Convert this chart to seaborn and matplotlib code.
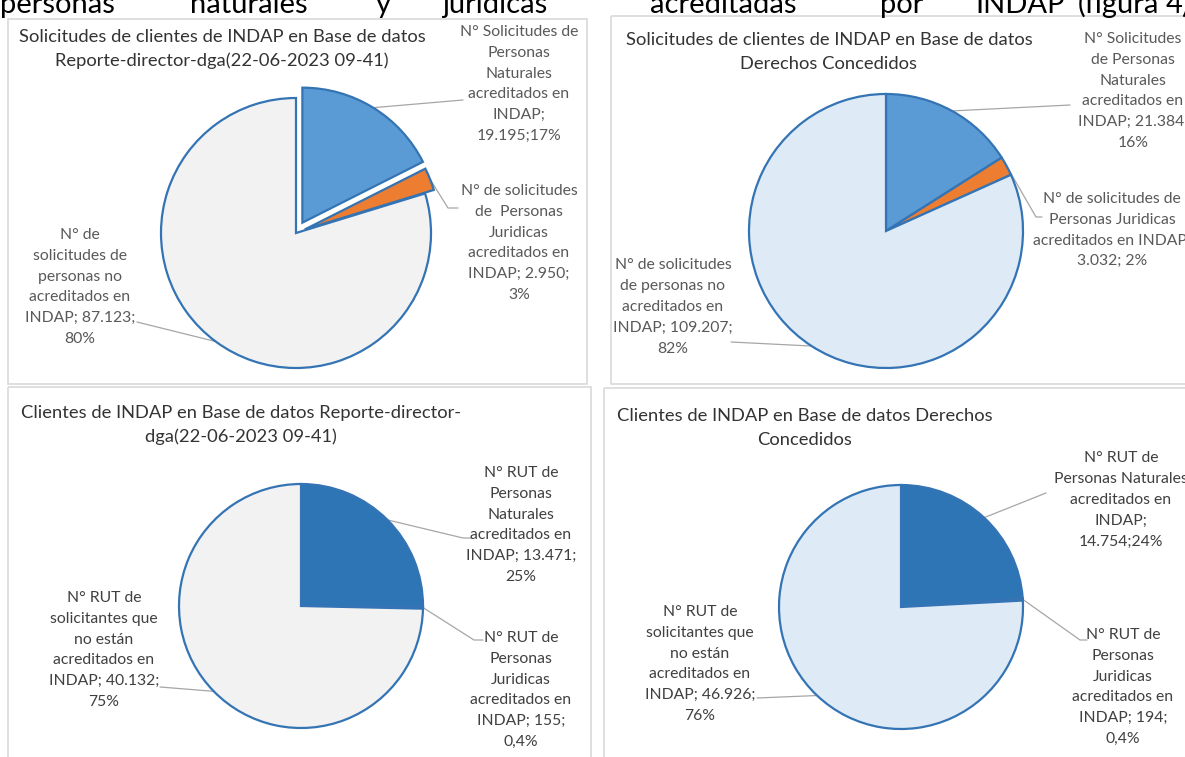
import matplotlib
matplotlib.use("Agg")
import matplotlib.pyplot as plt
from matplotlib.patches import Rectangle
import seaborn as sns
import numpy as np

# ---------------- data ----------------
intro_words = ["personas", "naturales", "y", "juridicas", "acreditadas", "por", "INDAP", "(figura", "4)."]

titles = [
    "Solicitudes de clientes de INDAP en Base de datos\nReporte-director-dga(22-06-2023 09-41)",
    "Solicitudes de clientes de INDAP en Base de datos\nDerechos Concedidos",
    "Clientes de INDAP en Base de datos Reporte-director-\ndga(22-06-2023 09-41)",
    "Clientes de INDAP en Base de datos Derechos\nConcedidos",
]

values_sol_reporte = [19195, 2950, 87123]
values_sol_derechos = [21384, 3032, 109207]
values_rut_reporte = [13471, 155, 40132]
values_rut_derechos = [14754, 194, 46926]

labels_sol_reporte = [
    "N° Solicitudes de\nPersonas\nNaturales\nacreditados en\nINDAP;\n19.195;17%",
    "N° de solicitudes\nde  Personas\nJuridicas\nacreditados en\nINDAP; 2.950;\n3%",
    "N° de\nsolicitudes de\npersonas no\nacreditados en\nINDAP; 87.123;\n80%",
]
labels_sol_derechos = [
    "N° Solicitudes\nde Personas\nNaturales\nacreditados en\nINDAP; 21.384;\n16%",
    "N° de solicitudes de\nPersonas Juridicas\nacreditados en INDAP;\n3.032; 2%",
    "N° de solicitudes\nde personas no\nacreditados en\nINDAP; 109.207;\n82%",
]
labels_rut_reporte = [
    "N° RUT de\nPersonas\nNaturales\nacreditados en\nINDAP; 13.471;\n25%",
    "N° RUT de\nPersonas\nJuridicas\nacreditados en\nINDAP; 155;\n0,4%",
    "N° RUT de\nsolicitantes que\nno están\nacreditados en\nINDAP; 40.132;\n75%",
]
labels_rut_derechos = [
    "N° RUT de\nPersonas Naturales\nacreditados en\nINDAP;\n14.754;24%",
    "N° RUT de\nPersonas\nJuridicas\nacreditados en\nINDAP; 194;\n0,4%",
    "N° RUT de\nsolicitantes que\nno están\nacreditados en\nINDAP; 46.926;\n76%",
]

# ---------------- style ----------------
sns.set_theme(style="white")
plt.rcParams['font.family'] = ['Lato', 'DejaVu Sans']

W, H = 1185, 757
fig = plt.figure(figsize=(W / 100, H / 100), dpi=100)
fig.patch.set_facecolor("white")
bg = fig.add_axes([0, 0, 1, 1])
bg.set_xlim(0, W)
bg.set_ylim(H, 0)
bg.axis("off")

# intro text line (cut at the top of the picture)
intro_x = [0, 190, 376, 442, 650, 880, 975, 1078, 1166]
for word, x in zip(intro_words, intro_x):
    bg.text(x, 13, word, fontsize=21, color="black", ha="left", va="baseline")

BLUE = "#5B9BD5"
DBLUE = "#2E75B6"
ORANGE = "#ED7D31"
LGREY = "#F2F2F2"
LBLUE = "#DEEBF7"
EDGE = "#3474B4"
LEADER = "#A6A6A6"

panels = [
    dict(values=values_sol_reporte, labels=labels_sol_reporte, title=titles[0],
         box=(8, 19, 579, 365), title_xy=(222, 49), center=(296, 233), R=135,
         colors=[BLUE, ORANGE, LGREY], explode=[0.09, 0.07, 0.0],
         label_xy=[(519, 84), (519, 243), (80, 287)],
         paths=[[(463, 100)], [(448, 208), (458, 208)], [(137, 322)]],
         text_color="#595959"),
    dict(values=values_sol_derechos, labels=labels_sol_derechos, title=titles[1],
         box=(611, 16, 590, 368), title_xy=(829, 52), center=(886, 231), R=137,
         colors=[BLUE, ORANGE, LBLUE], explode=[0, 0, 0],
         label_xy=[(1133, 91), (1112, 230), (673, 307)],
         paths=[[(1070, 105)], [(1036, 217), (1042, 217)], [(731, 342)]],
         text_color="#595959"),
    dict(values=values_rut_reporte, labels=labels_rut_reporte, title=titles[2],
         box=(8, 387, 583, 380), title_xy=(241, 425), center=(301, 606), R=122,
         colors=[DBLUE, ORANGE, LGREY], explode=[0, 0, 0],
         label_xy=[(521, 525), (521, 690), (104, 650)],
         paths=[[(463, 538), (471, 538)], [(474, 640), (483, 640)], [(160, 687)]],
         text_color="#404040"),
    dict(values=values_rut_derechos, labels=labels_rut_derechos, title=titles[3],
         box=(604, 388, 590, 380), title_xy=(805, 428), center=(901, 607), R=122,
         colors=[DBLUE, ORANGE, LBLUE], explode=[0, 0, 0],
         label_xy=[(1121, 500), (1123, 687), (700, 664)],
         paths=[[(1046, 493)], [(1080, 640), (1087, 640)], [(757, 698)]],
         text_color="#404040"),
]

M = 1.15
for p in panels:
    x0, y0, w, h = p["box"]
    bg.add_patch(Rectangle((x0, y0), w, h, fill=False, edgecolor="#D9D9D9", lw=1.2))
    bg.text(p["title_xy"][0], p["title_xy"][1], p["title"], fontsize=13.2, color="#333333",
            ha="center", va="center", linespacing=1.6)
    cx, cy = p["center"]
    R = p["R"]
    side = 2 * R * M
    ax = fig.add_axes([(cx - R * M) / W, 1 - (cy + R * M) / H, side / W, side / H])
    ax.pie(p["values"], colors=p["colors"], explode=p["explode"], startangle=90,
           counterclock=False,
           wedgeprops=dict(edgecolor=EDGE, linewidth=1.6, joinstyle="miter"))
    ax.set_xlim(-M, M)
    ax.set_ylim(-M, M)
    ax.axis("off")
    # leader lines from wedge outer midpoint to label
    vals = np.array(p["values"], dtype=float)
    frac = vals / vals.sum()
    cum = np.cumsum(frac) - frac / 2
    for i, (lab, (lx, ly), path) in enumerate(zip(p["labels"], p["label_xy"], p["paths"])):
        theta = np.deg2rad(90 - 360 * cum[i])
        d = R * (1 + p["explode"][i])
        ax_pt = (cx + d * np.cos(theta), cy - d * np.sin(theta))
        pts = [ax_pt] + path
        bg.plot([q[0] for q in pts], [q[1] for q in pts], color=LEADER, lw=0.9, zorder=1)
        bg.text(lx, ly, lab, fontsize=11.3, color=p["text_color"], ha="center", va="center",
                linespacing=1.62)

fig.savefig("out.png", dpi=100)
